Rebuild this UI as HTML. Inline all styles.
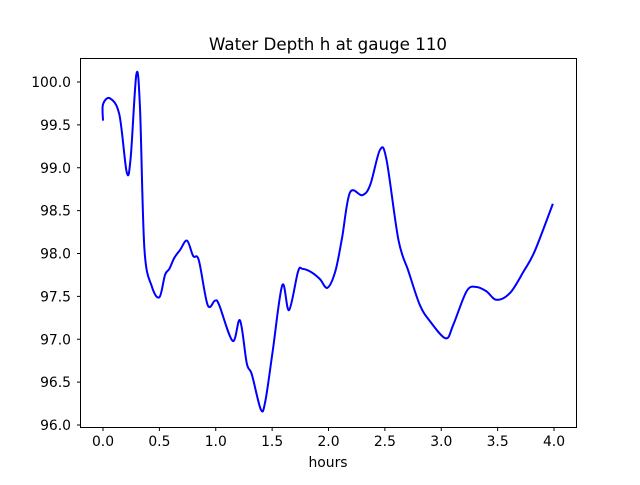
<!DOCTYPE html>
<html><head><meta charset="utf-8"><style>
body{margin:0;background:#fff;font-family:"Liberation Sans","DejaVu Sans",sans-serif}
svg text{font-family:"DejaVu Sans","Liberation Sans",sans-serif;font-size:13.9px;fill:#000}
</style></head><body>
<svg id="chart" width="640" height="480" xmlns="http://www.w3.org/2000/svg">
<rect width="640" height="480" fill="#fff"/>
<text x="328" y="50" text-anchor="middle" style="font-size:16.7px">Water Depth h at gauge 110</text>
<g id="plot"></g>
<rect x="80.5" y="58.5" width="496" height="369" fill="none" stroke="#000" stroke-width="1"/>
<text x="328" y="467" text-anchor="middle">hours</text>
</svg>
<script>
const xs=[0,0,0.062,0.145,0.21,0.245,0.296,0.328,0.367,0.432,0.5,0.55,0.588,0.633,0.683,0.745,0.80,0.85,0.928,0.993,1.03,1.15,1.215,1.275,1.32,1.40,1.44,1.505,1.59,1.65,1.73,1.77,1.85,1.925,1.99,2.06,2.12,2.19,2.30,2.37,2.457,2.515,2.62,2.71,2.81,2.90,3.04,3.107,3.225,3.31,3.40,3.49,3.61,3.73,3.83,3.99];
const ys=[99.55,99.74,99.81,99.62,98.95,99.11,100.09,99.70,98.06,97.62,97.49,97.75,97.82,97.95,98.04,98.15,97.97,97.92,97.40,97.45,97.40,96.98,97.22,96.72,96.59,96.18,96.28,96.86,97.63,97.34,97.79,97.82,97.78,97.70,97.60,97.79,98.18,98.71,98.68,98.80,99.21,99.09,98.16,97.79,97.40,97.21,97.01,97.17,97.56,97.61,97.56,97.46,97.54,97.79,98.03,98.58];
const xTicks=[0,0.5,1,1.5,2,2.5,3,3.5,4];
const yTicks=[96,96.5,97,97.5,98,98.5,99,99.5,100];
const NS="http://www.w3.org/2000/svg";
function sx(v){return 103+v*112.75;}
function sy(v){return 82+(100-v)*85.75;}
const g=document.getElementById('plot');
xTicks.forEach(t=>{
 const l=document.createElementNS(NS,'line');
 
 
 l.setAttribute('x1',sx(t));l.setAttribute('x2',sx(t));l.setAttribute('y1',427.5);l.setAttribute('y2',431);l.setAttribute('stroke','#000');
 g.appendChild(l);
 const tx=document.createElementNS(NS,'text');
 
 
 tx.setAttribute('x',sx(t));tx.setAttribute('y',446);tx.setAttribute('text-anchor','middle');
 tx.textContent=t.toFixed(1);g.appendChild(tx);
});
yTicks.forEach(t=>{
 const l=document.createElementNS(NS,'line');
 
 
 l.setAttribute('x1',77);l.setAttribute('x2',80.5);l.setAttribute('y1',sy(t));l.setAttribute('y2',sy(t));l.setAttribute('stroke','#000');
 g.appendChild(l);
 const tx=document.createElementNS(NS,'text');
 
 
 tx.setAttribute('x',71);tx.setAttribute('y',sy(t)+5);tx.setAttribute('text-anchor','end');
 tx.textContent=t.toFixed(1);g.appendChild(tx);
});
const pts=xs.map((x,i)=>[sx(x),sy(ys[i])]);
let d='M'+pts[0][0]+','+pts[0][1];
for(let i=0;i<pts.length-1;i++){
 const p0=pts[Math.max(0,i-1)],p1=pts[i],p2=pts[i+1],p3=pts[Math.min(pts.length-1,i+2)];
 const c1=[p1[0]+(p2[0]-p0[0])/6,p1[1]+(p2[1]-p0[1])/6];
 const c2=[p2[0]-(p3[0]-p1[0])/6,p2[1]-(p3[1]-p1[1])/6];
 d+=' C'+c1[0]+','+c1[1]+' '+c2[0]+','+c2[1]+' '+p2[0]+','+p2[1];
}
const p=document.createElementNS(NS,'path');


p.setAttribute('d',d);
p.setAttribute('fill','none');p.setAttribute('stroke','#0000ff');p.setAttribute('stroke-width','2');p.setAttribute('stroke-linejoin','round');
g.appendChild(p);
</script>
</body></html>
